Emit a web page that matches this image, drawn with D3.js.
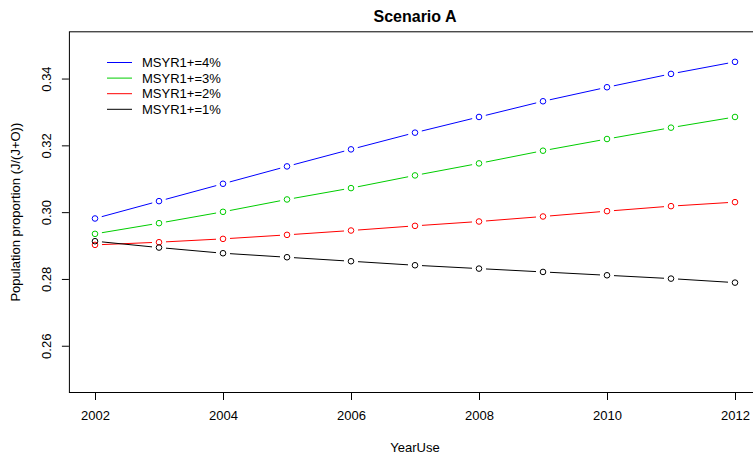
<!DOCTYPE html>
<html>
<head>
<meta charset="utf-8">
<script src="https://cdn.jsdelivr.net/npm/d3@7"></script>
<style>
  html, body { margin: 0; padding: 0; background: #fff; }
  svg { display: block; font-family: "Liberation Sans", Arial, Helvetica, sans-serif; }
</style>
</head>
<body>
<svg id="chart" width="753" height="458"></svg>
<script>
// Years on the x axis
const years = [2002, 2003, 2004, 2005, 2006, 2007, 2008, 2009, 2010, 2011, 2012];

// Juvenile proportion J/(J+O) for each MSYR1+ assumption
const msyr4 = [0.2981, 0.3033, 0.3085, 0.3137, 0.3188, 0.3238, 0.3285, 0.3332, 0.3374, 0.3414, 0.3450];
const msyr3 = [0.2935, 0.2967, 0.3001, 0.3038, 0.3072, 0.3110, 0.3146, 0.3184, 0.3219, 0.3253, 0.3285];
const msyr2 = [0.2902, 0.2910, 0.2920, 0.2932, 0.2945, 0.2959, 0.2972, 0.2987, 0.3003, 0.3018, 0.3030];
const msyr1 = [0.2913, 0.2894, 0.2877, 0.2865, 0.2853, 0.2841, 0.2831, 0.2821, 0.2811, 0.2801, 0.2789];

const seriesNames = ["MSYR1+=4%", "MSYR1+=3%", "MSYR1+=2%", "MSYR1+=1%"];
const seriesColors = ["#0000FF", "#00CD00", "#FF0000", "#000000"];
const seriesValues = [msyr4, msyr3, msyr2, msyr1];

const xTicks = [2002, 2004, 2006, 2008, 2010, 2012];
const yTicks = [0.26, 0.28, 0.30, 0.32, 0.34];
const yLimits = [0.25, 0.35];

const svg = d3.select("#chart");
const plot = { left: 69.4, right: 760.6, top: 31.8, bottom: 392.5 };
const fontSize = 13;

// R-style 4% axis extension
const xPad = (years[years.length - 1] - years[0]) * 0.04;
const yPad = (yLimits[1] - yLimits[0]) * 0.04;
const x = d3.scaleLinear()
  .domain([years[0] - xPad, years[years.length - 1] + xPad])
  .range([plot.left, plot.right]);
const y = d3.scaleLinear()
  .domain([yLimits[0] - yPad, yLimits[1] + yPad])
  .range([plot.bottom, plot.top]);

// Frame
svg.append("rect")
  .attr("x", plot.left).attr("y", plot.top)
  .attr("width", plot.right - plot.left).attr("height", plot.bottom - plot.top)
  .attr("fill", "none").attr("stroke", "#000").attr("stroke-width", 1);

// Axes
const xAxis = svg.append("g")
  .attr("transform", `translate(0,${plot.bottom + 0.5})`)
  .call(d3.axisBottom(x).tickValues(xTicks).tickFormat(d3.format("d")).tickSize(7).tickPadding(11));
xAxis.select(".domain").remove();
xAxis.selectAll("text").attr("font-size", fontSize).attr("fill", "#000")
  .attr("font-family", "Liberation Sans, Arial, sans-serif");

const yAxis = svg.append("g")
  .attr("transform", `translate(${plot.left - 0.5},0)`)
  .call(d3.axisLeft(y).tickValues(yTicks).tickFormat(d3.format(".2f")).tickSize(7));
yAxis.select(".domain").remove();
yAxis.selectAll("text")
  .attr("font-size", fontSize).attr("fill", "#000")
  .attr("font-family", "Liberation Sans, Arial, sans-serif")
  .attr("text-anchor", "middle")
  .attr("x", 0).attr("dy", null)
  .attr("transform", "translate(-22,0) rotate(-90)")
  .attr("dominant-baseline", "central");

// Series: lines with gaps around the points (type "b")
const gap = 7;
const radius = 2.8;
seriesValues.forEach((vals, si) => {
  const g = svg.append("g");
  const pts = vals.map((v, i) => [x(years[i]), y(v)]);
  for (let i = 0; i < pts.length - 1; i++) {
    const [x0, y0] = pts[i];
    const [x1, y1] = pts[i + 1];
    const len = Math.hypot(x1 - x0, y1 - y0);
    const ux = (x1 - x0) / len, uy = (y1 - y0) / len;
    g.append("line")
      .attr("x1", x0 + ux * gap).attr("y1", y0 + uy * gap)
      .attr("x2", x1 - ux * gap).attr("y2", y1 - uy * gap)
      .attr("stroke", seriesColors[si]).attr("stroke-width", 1);
  }
  g.selectAll("circle").data(vals).join("circle")
    .attr("cx", (d, i) => x(years[i]))
    .attr("cy", d => y(d))
    .attr("r", radius)
    .attr("fill", "none")
    .attr("stroke", seriesColors[si])
    .attr("stroke-width", 1);
});

// Legend
const legend = svg.append("g");
seriesNames.forEach((name, i) => {
  const ly = 62.5 + i * 15.6;
  legend.append("line")
    .attr("x1", 107).attr("x2", 132).attr("y1", ly).attr("y2", ly)
    .attr("stroke", seriesColors[i]).attr("stroke-width", 1);
  legend.append("text")
    .attr("x", 142).attr("y", ly).attr("dy", "0.35em")
    .attr("font-size", fontSize).attr("fill", "#000")
    .text(name);
});

// Title and axis labels
svg.append("text")
  .attr("x", (plot.left + plot.right) / 2).attr("y", 22)
  .attr("text-anchor", "middle").attr("font-weight", "bold").attr("font-size", 16)
  .text("Scenario A");

svg.append("text")
  .attr("x", (plot.left + plot.right) / 2).attr("y", 452)
  .attr("text-anchor", "middle").attr("font-size", fontSize)
  .text("YearUse");

svg.append("text")
  .attr("transform", `translate(20,${(plot.top + plot.bottom) / 2}) rotate(-90)`)
  .attr("text-anchor", "middle").attr("font-size", fontSize)
  .text("Population proportion (J/(J+O))");
</script>
</body>
</html>
